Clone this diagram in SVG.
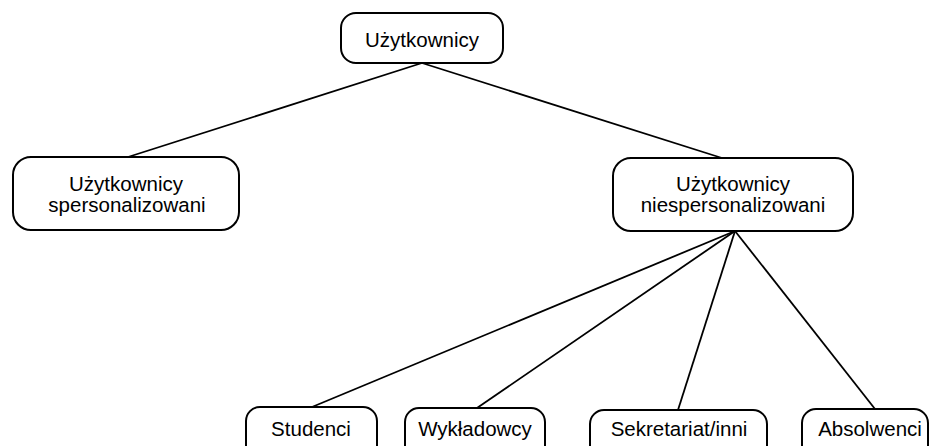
<svg xmlns="http://www.w3.org/2000/svg" width="936" height="446" viewBox="0 0 936 446">
<style>
.box{fill:#fff;stroke:#000;stroke-width:2}
.t{font-family:"Liberation Sans",Arial,sans-serif;font-size:20.5px;fill:#000;text-anchor:middle}
.c line{stroke:#000;stroke-width:1.8}
</style>
<rect width="936" height="446" fill="#fff"/>
<g class="c" id="connectors">
<line x1="422" y1="63" x2="128" y2="157"/>
<line x1="422" y1="63" x2="722" y2="158"/>
<line x1="735" y1="231" x2="312" y2="407"/>
<line x1="735" y1="231" x2="477" y2="408"/>
<line x1="735" y1="231" x2="678" y2="410"/>
<line x1="735" y1="231" x2="875" y2="409"/>
</g>
<g id="n-root">
<rect class="box" x="341" y="13" width="162" height="50" rx="15"/>
<text class="t" x="422" y="47">Użytkownicy</text>
</g>
<g id="n-spers">
<rect class="box" x="13" y="157" width="226" height="73" rx="18"/>
<text class="t" x="126" y="191">Użytkownicy</text>
<text class="t" x="127" y="212">spersonalizowani</text>
</g>
<g id="n-niespers">
<rect class="box" x="613" y="158" width="240" height="73" rx="18"/>
<text class="t" x="733" y="191">Użytkownicy</text>
<text class="t" x="733" y="212">niespersonalizowani</text>
</g>
<g id="n-studenci">
<rect class="box" x="246" y="407" width="131" height="54" rx="14"/>
<text class="t" x="311" y="436">Studenci</text>
</g>
<g id="n-wykladowcy">
<rect class="box" x="405" y="408" width="140" height="54" rx="14"/>
<text class="t" x="475" y="436">Wykładowcy</text>
</g>
<g id="n-sekretariat">
<rect class="box" x="590" y="410" width="177" height="54" rx="14"/>
<text class="t" x="679" y="436">Sekretariat/inni</text>
</g>
<g id="n-absolwenci">
<rect class="box" x="802" y="409" width="126" height="54" rx="14"/>
<text class="t" x="870" y="436">Absolwenci</text>
</g>
</svg>
